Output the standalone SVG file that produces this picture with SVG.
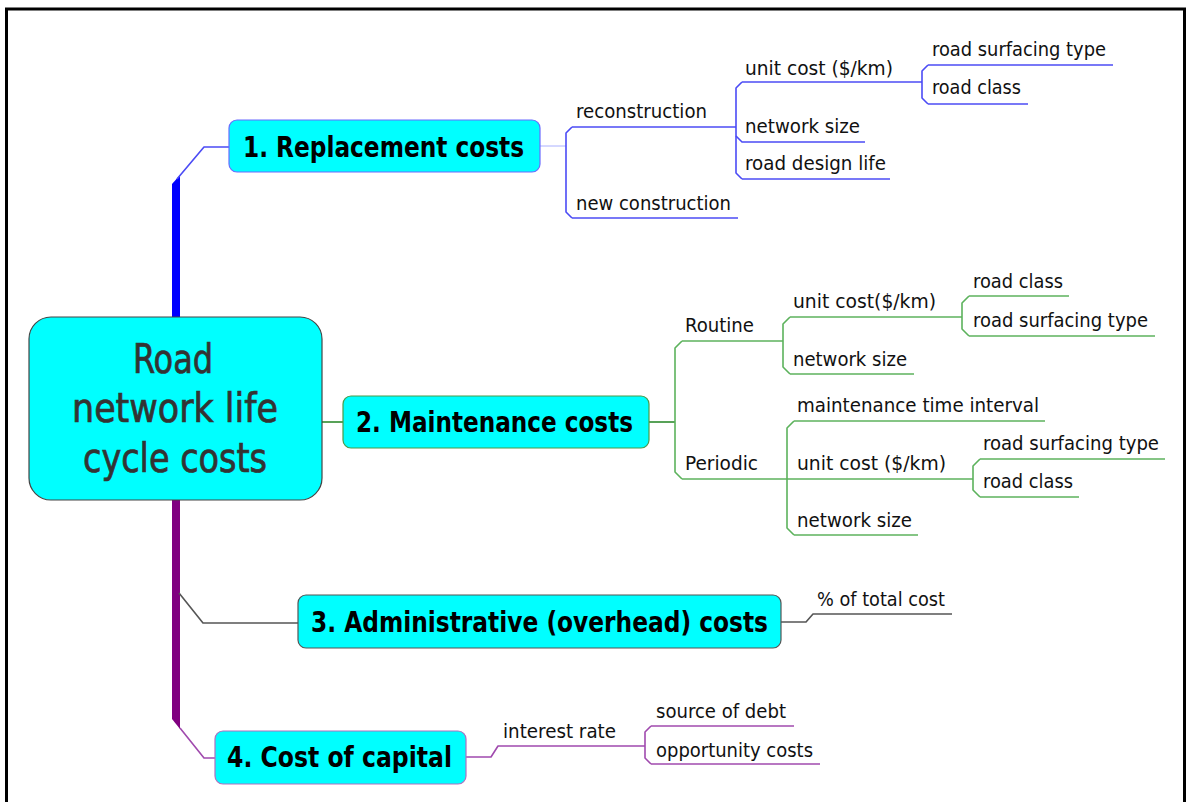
<svg xmlns="http://www.w3.org/2000/svg" width="1186" height="802" viewBox="0 0 1186 802">
  <style>
    .frame { fill: none; stroke: #000; stroke-width: 3; }
    .box { fill: #00ffff; stroke-width: 1.2; }
    .root-t { font-family: "DejaVu Sans Condensed", "DejaVu Sans", sans-serif; font-size: 40px; fill: #333; stroke: #333; stroke-width: 0.7; }
    .main-t { font-family: "DejaVu Sans Condensed", "DejaVu Sans", sans-serif; font-size: 29px; font-weight: bold; fill: #000; }
    .leaf { font-family: "DejaVu Sans Condensed", "DejaVu Sans", sans-serif; font-size: 20px; fill: #111; }
    .ln { fill: none; stroke-width: 1.6; stroke-linejoin: round; }
    .blue { stroke: #4b4bf5; }
    .blue-lt { stroke: #aab0ff; stroke-width: 1; }
    .green { stroke: #5cb25c; }
    .green-dk { stroke: #2e8b2e; }
    .gray { stroke: #555; }
    .purple { stroke: #a04aae; }
  </style>

  <rect x="0" y="0" width="1186" height="802" fill="#fff"/>
  <rect class="frame" x="6.5" y="9" width="1178" height="800"/>

  <g id="connectors">
    <!-- trunk from the root upward to branch 1 -->
    <polygon points="172,184 180,175 180,317 172,317" fill="#0000ff"/>
    <path class="ln blue" d="M177 179 L204 147 L229 147"/>
    <!-- trunk from the root downward to branch 4 -->
    <polygon points="172,500 180,500 180,729 172,719" fill="#800080"/>
    <path class="ln purple" d="M180 728 L204 758 L215 758"/>
    <!-- branch 3 -->
    <path class="ln gray" d="M179 593 L203 623 L298 623"/>
    <!-- branch 2 -->
    <path class="ln green-dk" d="M322 422 L343 422"/>

    <!-- 1. Replacement costs subtree -->
    <path class="ln blue-lt" d="M540 146 L566 146"/>
    <path class="ln blue" d="M572 127 L566 133 L566 212 L572 218"/>
    <path class="ln blue" d="M572 127 L736 127"/>
    <path class="ln blue" d="M572 218 L738 218"/>
    <path class="ln blue" d="M742 82 L736 88 L736 173 L742 179"/>
    <path class="ln blue" d="M742 82 L922 82"/>
    <path class="ln blue" d="M736 136 L742 142 L865 142"/>
    <path class="ln blue" d="M742 179 L890 179"/>
    <path class="ln blue" d="M928 65 L922 71 L922 98 L928 104"/>
    <path class="ln blue" d="M928 65 L1113 65"/>
    <path class="ln blue" d="M928 104 L1028 104"/>

    <!-- 2. Maintenance costs subtree -->
    <path class="ln green-dk" d="M649 422 L675 422"/>
    <path class="ln green" d="M682 341 L675 348 L675 472 L682 479"/>
    <path class="ln green" d="M682 341 L783 341"/>
    <path class="ln green" d="M682 479 L973 479"/>
    <path class="ln green" d="M790 317 L783 324 L783 367 L790 374"/>
    <path class="ln green" d="M790 317 L962 317"/>
    <path class="ln green" d="M790 374 L914 374"/>
    <path class="ln green" d="M969 296 L962 303 L962 329 L969 336"/>
    <path class="ln green" d="M969 296 L1069 296"/>
    <path class="ln green" d="M969 336 L1155 336"/>
    <path class="ln green" d="M794 421 L787 428 L787 528 L794 535"/>
    <path class="ln green" d="M794 421 L1045 421"/>
    <path class="ln green" d="M794 535 L918 535"/>
    <path class="ln green" d="M980 459 L973 466 L973 490 L980 497"/>
    <path class="ln green" d="M980 459 L1165 459"/>
    <path class="ln green" d="M980 497 L1079 497"/>

    <!-- 3. Administrative costs subtree -->
    <path class="ln gray" d="M781 622 L806 622 L813 614 L952 614"/>

    <!-- 4. Cost of capital subtree -->
    <path class="ln purple" d="M466 757 L491 757 L498 746 L645 746"/>
    <path class="ln purple" d="M651 726 L645 732 L645 758 L651 764"/>
    <path class="ln purple" d="M651 726 L794 726"/>
    <path class="ln purple" d="M651 764 L820 764"/>
  </g>

  <g id="root">
    <rect class="box" x="29" y="317" width="293" height="183" rx="22" stroke="#444"/>
    <text class="root-t" x="133" y="373" textLength="80" lengthAdjust="spacingAndGlyphs">Road</text>
    <text class="root-t" x="72" y="422" textLength="206" lengthAdjust="spacingAndGlyphs">network life</text>
    <text class="root-t" x="83" y="472" textLength="184" lengthAdjust="spacingAndGlyphs">cycle costs</text>
  </g>

  <g id="replacement">
    <rect class="box" x="229" y="120" width="311" height="52" rx="8" stroke="#6b6bff"/>
    <text class="main-t" x="243" y="157" textLength="281" lengthAdjust="spacingAndGlyphs">1. Replacement costs</text>
  </g>
  <g id="replacement-items">
    <text class="leaf" x="576" y="118" textLength="131" lengthAdjust="spacingAndGlyphs">reconstruction</text>
    <text class="leaf" x="576" y="210" textLength="155" lengthAdjust="spacingAndGlyphs">new construction</text>
    <text class="leaf" x="745" y="75" textLength="148" lengthAdjust="spacingAndGlyphs">unit cost ($/km)</text>
    <text class="leaf" x="745" y="133" textLength="115" lengthAdjust="spacingAndGlyphs">network size</text>
    <text class="leaf" x="745" y="170" textLength="141" lengthAdjust="spacingAndGlyphs">road design life</text>
    <text class="leaf" x="932" y="56" textLength="174" lengthAdjust="spacingAndGlyphs">road surfacing type</text>
    <text class="leaf" x="932" y="94" textLength="89" lengthAdjust="spacingAndGlyphs">road class</text>
  </g>

  <g id="maintenance">
    <rect class="box" x="343" y="396" width="306" height="52" rx="8" stroke="#4a9a4a"/>
    <text class="main-t" x="356" y="432" textLength="277" lengthAdjust="spacingAndGlyphs">2. Maintenance costs</text>
  </g>
  <g id="maintenance-items">
    <text class="leaf" x="685" y="332" textLength="69" lengthAdjust="spacingAndGlyphs">Routine</text>
    <text class="leaf" x="685" y="470" textLength="73" lengthAdjust="spacingAndGlyphs">Periodic</text>
    <text class="leaf" x="793" y="308" textLength="143" lengthAdjust="spacingAndGlyphs">unit cost($/km)</text>
    <text class="leaf" x="793" y="366" textLength="114" lengthAdjust="spacingAndGlyphs">network size</text>
    <text class="leaf" x="973" y="288" textLength="90" lengthAdjust="spacingAndGlyphs">road class</text>
    <text class="leaf" x="973" y="327" textLength="175" lengthAdjust="spacingAndGlyphs">road surfacing type</text>
    <text class="leaf" x="797" y="412" textLength="242" lengthAdjust="spacingAndGlyphs">maintenance time interval</text>
    <text class="leaf" x="797" y="470" textLength="149" lengthAdjust="spacingAndGlyphs">unit cost ($/km)</text>
    <text class="leaf" x="797" y="527" textLength="115" lengthAdjust="spacingAndGlyphs">network size</text>
    <text class="leaf" x="983" y="450" textLength="176" lengthAdjust="spacingAndGlyphs">road surfacing type</text>
    <text class="leaf" x="983" y="488" textLength="90" lengthAdjust="spacingAndGlyphs">road class</text>
  </g>

  <g id="administrative">
    <rect class="box" x="298" y="595" width="483" height="53" rx="8" stroke="#555"/>
    <text class="main-t" x="311" y="632" textLength="457" lengthAdjust="spacingAndGlyphs">3. Administrative (overhead) costs</text>
  </g>
  <g id="administrative-items">
    <text class="leaf" x="817" y="606" textLength="128" lengthAdjust="spacingAndGlyphs">% of total cost</text>
  </g>

  <g id="capital">
    <rect class="box" x="215" y="731" width="251" height="53" rx="8" stroke="#b070c0"/>
    <text class="main-t" x="227" y="767" textLength="225" lengthAdjust="spacingAndGlyphs">4. Cost of capital</text>
  </g>
  <g id="capital-items">
    <text class="leaf" x="503" y="738" textLength="113" lengthAdjust="spacingAndGlyphs">interest rate</text>
    <text class="leaf" x="656" y="718" textLength="130" lengthAdjust="spacingAndGlyphs">source of debt</text>
    <text class="leaf" x="656" y="757" textLength="157" lengthAdjust="spacingAndGlyphs">opportunity costs</text>
  </g>
</svg>
